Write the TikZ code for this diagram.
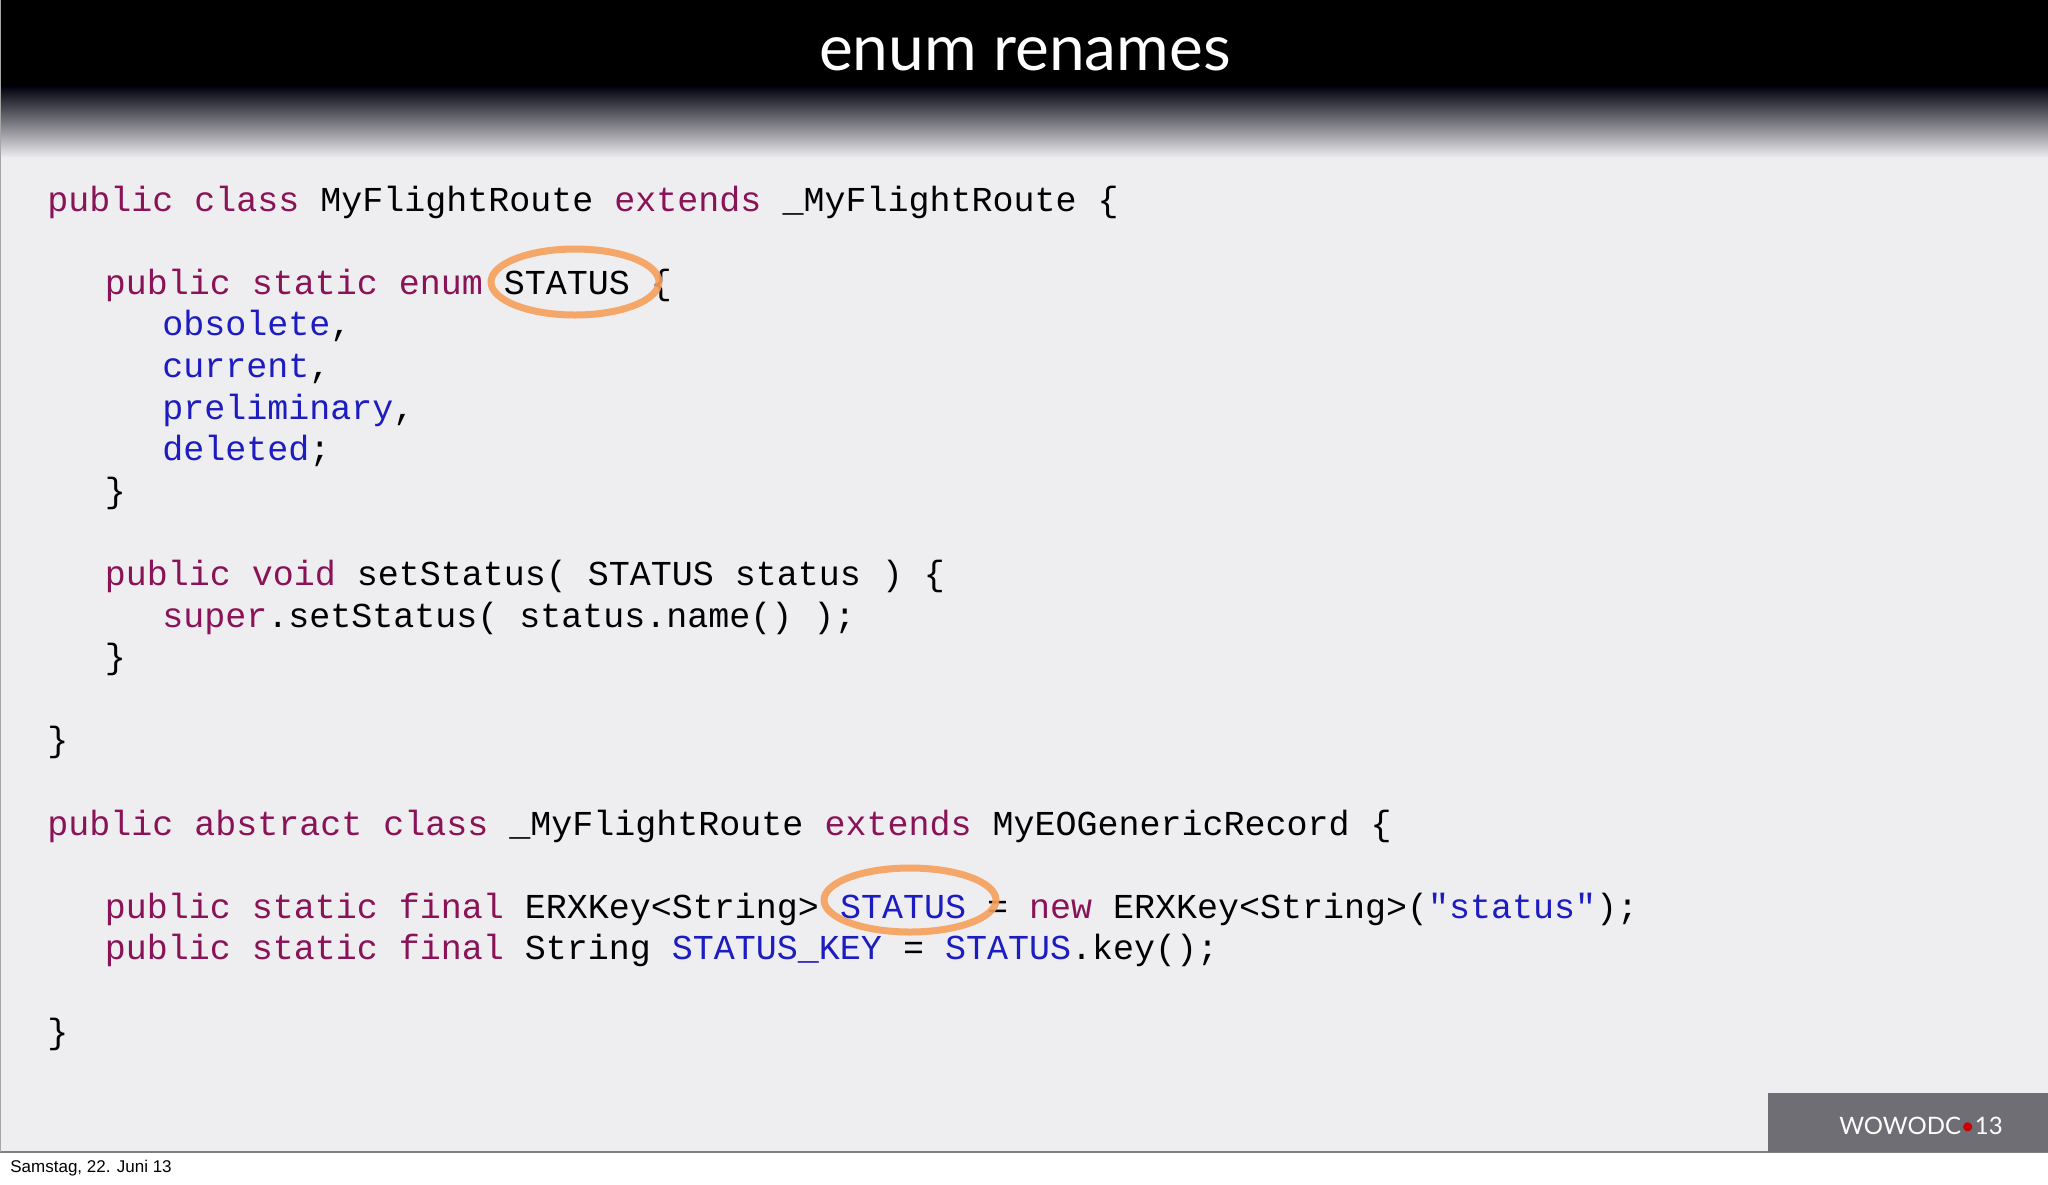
\documentclass[tikz,border=0pt]{standalone}
\usepackage{fontspec}
\setmainfont{Liberation Sans}
\setmonofont{Liberation Mono}
\newfontfamily\titlefont{Lato}
\definecolor{kw}{HTML}{8A1357}
\definecolor{idc}{HTML}{1C1CC0}
\definecolor{bg}{HTML}{EEEDF0}
\definecolor{ring}{HTML}{F5A05A}
\definecolor{boxg}{HTML}{6F6E74}
\newcommand{\K}[1]{\textcolor{kw}{#1}}
\newcommand{\B}[1]{\textcolor{idc}{#1}}
\begin{document}
\begin{tikzpicture}[x=0.5pt,y=-0.5pt,
  code/.style={anchor=base west,inner sep=0pt,font=\ttfamily\fontsize{17.5pt}{20pt}\selectfont},
  ringc/.style={draw=ring,line width=3.5pt,opacity=0.9}]
\useasboundingbox (0,0) rectangle (2048,1184);
\fill[white] (0,0) rectangle (2048,1184);
\fill[bg] (0,0) rectangle (2048,1152);
\fill[black] (0,0) rectangle (2048,86);
\shade[top color=black!95!blue, bottom color=bg] (0,86) rectangle (2048,158);
\draw[gray,line width=1pt] (0,1152) -- (2048,1152);
\draw[gray!70,line width=0.8pt] (0.5,0) -- (0.5,1152);
\node (title) at (1025,54) {\titlefont\fontsize{32pt}{36pt}\selectfont\color{white}enum renames};
\fill[boxg] (1768,1093) rectangle (2048,1152);
\node (logo) at (1921,1126) {\titlefont\fontsize{12pt}{14pt}\selectfont\color{white}WOWODC\textcolor{red!80!black}{\textbullet}13};
\node[anchor=base west,inner sep=0pt] (date) at (10,1172) {\fontsize{8.5pt}{10pt}\selectfont Samstag, 22. Juni 13};
\def\L#1{211+#1*41.6}
\node[code] (l0) at (47,{\L0}) {\K{public class} MyFlightRoute \K{extends} \_MyFlightRoute \{};
\node[code] (l2) at (104.5,{\L2}) {\K{public static enum} STATUS \{};
\node[code] (l3) at (162,{\L3}) {\B{obsolete},};
\node[code] (l4) at (162,{\L4}) {\B{current},};
\node[code] (l5) at (162,{\L5}) {\B{preliminary},};
\node[code] (l6) at (162,{\L6}) {\B{deleted};};
\node[code] (l7) at (104.5,{\L7}) {\}};
\node[code] (l9) at (104.5,{\L9}) {\K{public void} setStatus( STATUS status ) \{};
\node[code] (l10) at (162,{\L{10}}) {\K{super}.setStatus( status.name() );};
\node[code] (l11) at (104.5,{\L{11}}) {\}};
\node[code] (l13) at (47,{\L{13}}) {\}};
\node[code] (l15) at (47,{\L{15}}) {\K{public abstract class} \_MyFlightRoute \K{extends} MyEOGenericRecord \{};
\node[code] (l17) at (104.5,{\L{17}}) {\K{public static final} ERXKey<String> \B{STATUS} = \K{new} ERXKey<String>(\B{"status"});};
\node[code] (l18) at (104.5,{\L{18}}) {\K{public static final} String \B{STATUS\_KEY} = \B{STATUS}.key();};
\node[code] (l20) at (47,{\L{20}}) {\}};
\draw[ringc] (575,282) ellipse [x radius=84, y radius=33];
\draw[ringc] (910,900) ellipse [x radius=86, y radius=32];
\end{tikzpicture}
\end{document}
